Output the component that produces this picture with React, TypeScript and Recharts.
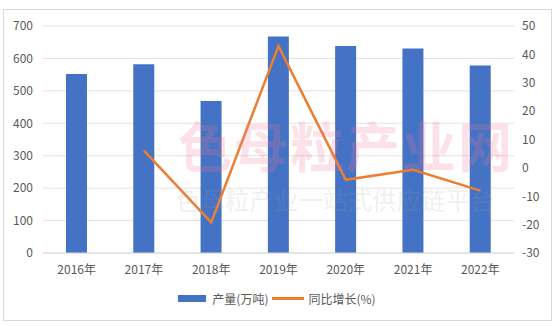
import { ComposedChart, Bar, Line, XAxis, YAxis, CartesianGrid } from "recharts";

const years = ["2016年", "2017年", "2018年", "2019年", "2020年", "2021年", "2022年"];
const output = [552, 582, 469, 668, 638, 631, 578];
const growth: Array<number | null> = [null, 6.1, -19.2, 42.9, -4.2, -0.7, -8];
const leftTicks = [0, 100, 200, 300, 400, 500, 600, 700];
const rightTicks = [-30, -20, -10, 0, 10, 20, 30, 40, 50];

const data = years.map((year, i) => ({ year, output: output[i], growth: growth[i] }));

const FONT = '"Noto Sans CJK SC", "Noto Sans", sans-serif';
const tickStyle = { fontSize: 12, fill: "#595959", fontFamily: FONT };

export default function App() {
  return (
    <div style={{ position: "absolute", left: 0, top: 0, width: 554, height: 326, background: "#fff" }}>
      <div
        style={{
          position: "absolute",
          left: 3,
          top: 9,
          width: 547,
          height: 310,
          border: "1px solid #d9d9d9",
        }}
      />
      <ComposedChart
        width={554}
        height={326}
        data={data}
        margin={{ top: 26, right: 0, bottom: 53, left: 0 }}
        style={{ position: "absolute", left: 0, top: 0 }}
      >
        <CartesianGrid vertical={false} stroke="#e3e3e3" yAxisId="left" />
        <XAxis
          dataKey="year"
          tick={tickStyle}
          tickLine={false}
          axisLine={{ stroke: "#d9d9d9" }}
          tickMargin={6}
          height={20}
          interval={0}
        />
        <YAxis
          yAxisId="left"
          domain={[0, 700]}
          ticks={leftTicks}
          width={43}
          tick={tickStyle}
          tickLine={false}
          axisLine={false}
          tickSize={0}
          tickMargin={10}
        />
        <YAxis
          yAxisId="right"
          orientation="right"
          domain={[-30, 50]}
          ticks={rightTicks}
          width={40}
          tick={tickStyle}
          tickLine={false}
          axisLine={false}
          tickSize={0}
          tickMargin={8}
        />
        <Bar yAxisId="left" dataKey="output" fill="#4472C4" barSize={21} isAnimationActive={false} />
        <Line
          yAxisId="right"
          dataKey="growth"
          stroke="#ED7D31"
          strokeWidth={2.5}
          dot={false}
          type="linear"
          isAnimationActive={false}
        />
      </ComposedChart>
      <div
        style={{
          position: "absolute",
          left: 0,
          top: 0,
          width: 554,
          height: 326,
          pointerEvents: "none",
          fontFamily: FONT,
        }}
      >
        <div style={{ position: "absolute", left: 178, top: 118, fontSize: 54, lineHeight: 1, fontWeight: 700, color: "rgba(240,120,150,0.22)", letterSpacing: 2 }}>
          色母粒产业网
        </div>
        <div style={{ position: "absolute", left: 176, top: 188, fontSize: 24.5, lineHeight: 1, color: "rgba(160,160,160,0.18)" }}>
          色母粒产业一站式供应链平台
        </div>
      </div>
      <div
        style={{
          position: "absolute",
          left: 0,
          top: 290,
          width: 554,
          display: "flex",
          justifyContent: "center",
          alignItems: "center",
          fontFamily: FONT,
          fontSize: 12,
          color: "#595959",
        }}
      >
        <span style={{ display: "inline-block", width: 28, height: 7, background: "#4472C4", marginRight: 6 }} />
        <span>产量(万吨)</span>
        <span style={{ display: "inline-block", width: 32, height: 3, background: "#ED7D31", margin: "0 4px 0 4px" }} />
        <span>同比增长(%)</span>
      </div>
    </div>
  );
}
